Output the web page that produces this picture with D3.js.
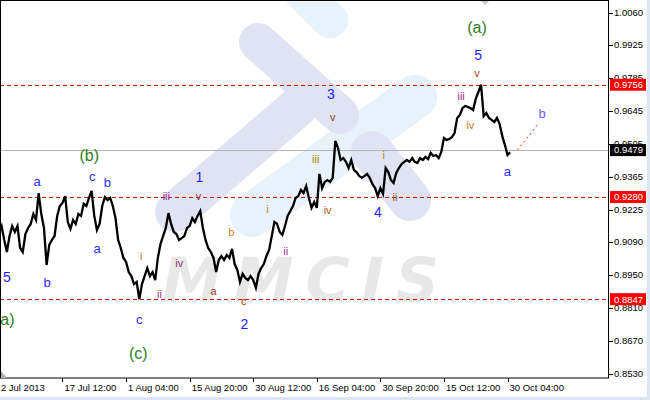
<!DOCTYPE html>
<html><head><meta charset="utf-8">
<script src="https://cdn.jsdelivr.net/npm/d3@7/dist/d3.min.js"></script>
<style>html,body{margin:0;padding:0;background:#fff;overflow:hidden}</style>
</head><body>
<svg id="c" width="650" height="400"></svg>
<script>
// ---- data (AUDUSD-like closes, bar index 0..193) ----
const closes = [
0.9132,0.9157,0.9098,0.9047,0.9115,0.9157,0.9132,0.9157,0.9064,0.9047,
0.9123,0.9149,0.9166,0.9208,0.9183,0.9297,0.9208,0.9149,0.8992,0.9077,
0.9098,0.9115,0.9200,0.9242,0.9255,0.9284,0.9174,0.9145,0.9183,0.9166,
0.9208,0.9200,0.9251,0.9242,0.9276,0.9306,0.9200,0.9140,0.9166,0.9242,
0.9280,0.9267,0.9276,0.9242,0.9191,0.9098,0.9064,0.9022,0.9005,0.8962,
0.8945,0.8911,0.8920,0.8847,0.8911,0.8945,0.8979,0.8945,0.8962,0.8928,
0.9022,0.9081,0.9115,0.9149,0.9212,0.9166,0.9132,0.9123,0.9098,0.9106,
0.9115,0.9149,0.9157,0.9191,0.9174,0.9200,0.9221,0.9149,0.9098,0.9064,
0.9047,0.9022,0.8962,0.9013,0.9030,0.9013,0.9034,0.9022,0.9060,0.8996,
0.8971,0.8920,0.8954,0.8937,0.8928,0.8945,0.8928,0.8895,0.8954,0.8979,
0.8996,0.9030,0.9056,0.9115,0.9174,0.9166,0.9132,0.9119,0.9157,0.9200,
0.9221,0.9242,0.9276,0.9284,0.9310,0.9297,0.9327,0.9276,0.9234,0.9259,
0.9234,0.9378,0.9318,0.9344,0.9352,0.9344,0.9361,0.9518,0.9488,0.9437,
0.9445,0.9429,0.9403,0.9437,0.9395,0.9386,0.9369,0.9361,0.9369,0.9378,
0.9361,0.9335,0.9318,0.9284,0.9318,0.9293,0.9403,0.9386,0.9352,0.9340,
0.9382,0.9403,0.9420,0.9429,0.9437,0.9429,0.9445,0.9429,0.9424,0.9445,
0.9437,0.9450,0.9441,0.9467,0.9454,0.9458,0.9445,0.9471,0.9530,0.9522,
0.9526,0.9534,0.9551,0.9615,0.9628,0.9657,0.9666,0.9662,0.9657,0.9649,
0.9696,0.9725,0.9756,0.9623,0.9636,0.9615,0.9607,0.9598,0.9615,0.9590,
0.9539,0.9501,0.9458,0.9470
];
const timeTickIdx = [0,24,48,72,96,120,144,168,192];
const timeTickLabels = ["2 Jul 2013","17 Jul 12:00","1 Aug 04:00","15 Aug 20:00","30 Aug 12:00","16 Sep 04:00","30 Sep 20:00","15 Oct 12:00","30 Oct 04:00"];
const priceTicks = [1.0060,0.9925,0.9785,0.9645,0.9505,0.9365,0.9225,0.9090,0.8950,0.8810,0.8670,0.8530];
const levelLines = [0.9756,0.9280,0.8847];
const currentPrice = 0.9479;
const forecastFrom = [195.7,0.9479];
const forecastTo = [203.6,0.9590];

// wave labels: text, bar index, price, style
const waveText  = ["5","(a)","a","b","(b)","c","b","a","i","iii","1","v","iv","ii","c","(c)","a","b","c","2","i","ii","iii","iv","3","v","i","ii","4","iii","iv","(a)","5","v","a","b"];
const waveIdx   = [3.0,2.2,14.4,18.2,34.1,35.2,40.9,37.1,53.7,63.2,75.7,75.3,68.1,60.6,53.0,52.6,81.0,87.8,92.4,92.7,101.4,108.3,119.6,124.1,125.3,126.0,145.3,149.5,143.1,174.5,177.9,180.5,180.9,180.5,191.9,205.1];
const wavePrice = [0.8941,0.8763,0.9344,0.8916,0.9458,0.9369,0.9340,0.9060,0.9030,0.9284,0.9365,0.9284,0.9000,0.8869,0.8763,0.8619,0.8882,0.9132,0.8839,0.8742,0.9229,0.9051,0.9441,0.9225,0.9717,0.9619,0.9458,0.9280,0.9217,0.9708,0.9585,1.0001,0.9882,0.9806,0.9390,0.9636];
const waveStyle = ["W","P","w","w","P","w","w","w","i","ii","W","v","iv","ii","w","P","v","b","v","W","i","ii","iii2","iv2","W","v","i","v2","W","ii","i","P","W","v","w","wb"];

// ---- rendering ----
const svg = d3.select("#c");
const plotR = 608, plotB = 378;
const x = d3.scaleLinear().domain([0,193]).range([-1.08, -1.08 + 2.649*193]);
const y = d3.scaleLinear().domain([0.85130, 1.01151]).range([plotB, 0]);

// background bands
svg.append("rect").attr("x",0).attr("y",397).attr("width",650).attr("height",3).attr("fill","#dde6f0");
svg.append("rect").attr("x",647).attr("y",0).attr("width",3).attr("height",400).attr("fill","#dde6f0");

const plot = svg.append("g");
plot.append("clipPath").attr("id","clip").append("rect").attr("x",0).attr("y",0).attr("width",plotR).attr("height",plotB);
const wm = plot.append("g").attr("clip-path","url(#clip)");

// watermark (logo + MMCIS)
function bar(x1,y1,x2,y2,w,col){
  wm.append("line").attr("x1",x1).attr("y1",y1).attr("x2",x2).attr("y2",y2)
    .attr("stroke",col).attr("stroke-width",w).attr("stroke-linecap","round");
}
const LAV = "#e0e3f4", LB = "#e7f2fb";
bar(300,-10,330,20,36,LB);
bar(252,215,415,97,44,LB);
bar(258,42,340,115,38,LAV);
bar(175,212,300,105,40,LAV);
bar(372,152,410,200,42,LAV);
wm.append("text").attr("x",162).attr("y",301).attr("font-family","DejaVu Sans").attr("font-weight","bold")
  .attr("font-style","italic").attr("font-size",60).attr("letter-spacing",12).attr("fill","#e8e8e8").text("MMCIS");

// level lines
wm.selectAll(".lvl").data(levelLines).join("line")
  .attr("x1",0).attr("x2",plotR).attr("y1",d=>Math.round(y(d))+0.5).attr("y2",d=>Math.round(y(d))+0.5)
  .attr("stroke","#e00000").attr("stroke-width",1).attr("stroke-dasharray","4,3");
wm.append("line").attr("x1",0).attr("x2",plotR+2).attr("y1",Math.round(y(currentPrice))+0.5).attr("y2",Math.round(y(currentPrice))+0.5)
  .attr("stroke","#b4b4b4").attr("stroke-width",1);

// price line
wm.append("path").datum(closes)
  .attr("d", d3.line().x((d,i)=>x(i)).y(d=>y(d)))
  .attr("fill","none").attr("stroke","#000").attr("stroke-width",2.3).attr("stroke-linejoin","miter");

// forecast
wm.append("line").attr("x1",x(forecastFrom[0])).attr("y1",y(forecastFrom[1]))
  .attr("x2",x(forecastTo[0])).attr("y2",y(forecastTo[1]))
  .attr("stroke","#ff2020").attr("stroke-width",1).attr("stroke-dasharray","2,3");

// wave labels
const styles = {
  W:{c:"#1e1eff",s:14}, w:{c:"#2a2aff",s:13}, wb:{c:"#6a5cff",s:13}, P:{c:"#2e7d1e",s:16},
  i:{c:"#c47a10",s:11}, ii:{c:"#9a2f96",s:11}, iii2:{c:"#b0800a",s:11}, iv:{c:"#96306e",s:11},
  iv2:{c:"#b05a10",s:11}, v:{c:"#a03c24",s:11}, v2:{c:"#9a5a20",s:11}, b:{c:"#e07a18",s:11}
};
wm.selectAll(".wl").data(waveText).join("text")
  .attr("x",(d,i)=>x(waveIdx[i])).attr("y",(d,i)=>y(wavePrice[i]))
  .attr("text-anchor","middle").attr("dy","0.35em")
  .attr("font-family","Liberation Sans, Arial, sans-serif")
  .attr("font-size",(d,i)=>styles[waveStyle[i]].s)
  .attr("fill",(d,i)=>styles[waveStyle[i]].c)
  .text(d=>d);

// frame
plot.append("rect").attr("x",0.5).attr("y",0.5).attr("width",plotR).attr("height",plotB-0.5)
  .attr("fill","none").attr("stroke","#000").attr("stroke-width",1);
// corner markers
svg.append("path").attr("d","M1,371 L1,378 L7,378 Z").attr("fill","#b0b0b0");
svg.append("path").attr("d","M481,1 L489,1 L485,5 Z").attr("fill","#c8c8c8");

// right axis
const ra = svg.append("g");
ra.selectAll("line").data(priceTicks).join("line")
  .attr("x1",plotR+1).attr("x2",plotR+5).attr("y1",d=>Math.round(y(d))+0.5).attr("y2",d=>Math.round(y(d))+0.5)
  .attr("stroke","#000");
ra.selectAll("text").data(priceTicks).join("text")
  .attr("x",plotR+6).attr("y",d=>y(d)).attr("dy","0.35em")
  .attr("font-family","Liberation Sans, Arial, sans-serif").attr("font-size",9.5).attr("fill","#000")
  .text(d=>d.toFixed(4));

// price boxes
const boxes = levelLines.map(v=>({v,bg:"#ff0000"})).concat([{v:currentPrice,bg:"#000"}]);
const bx = svg.append("g").selectAll("g").data(boxes).join("g");
bx.append("rect").attr("x",plotR+2).attr("y",d=>y(d.v)-6).attr("width",36).attr("height",12).attr("fill",d=>d.bg);
bx.append("text").attr("x",plotR+6).attr("y",d=>y(d.v)).attr("dy","0.35em")
  .attr("font-family","Liberation Sans, Arial, sans-serif").attr("font-size",9.5).attr("fill","#fff")
  .text(d=>d.v.toFixed(4));

// bottom axis
const ba = svg.append("g");
ba.selectAll("line").data(timeTickIdx).join("line")
  .attr("x1",d=>Math.round(x(d))+0.5).attr("x2",d=>Math.round(x(d))+0.5).attr("y1",plotB).attr("y2",plotB+4)
  .attr("stroke","#000");
ba.selectAll("text").data(timeTickLabels).join("text")
  .attr("x",(d,i)=>x(timeTickIdx[i])+2).attr("y",391)
  .attr("font-family","Liberation Sans, Arial, sans-serif").attr("font-size",9.5).attr("fill","#000")
  .text(d=>d);
</script>
</body></html>
